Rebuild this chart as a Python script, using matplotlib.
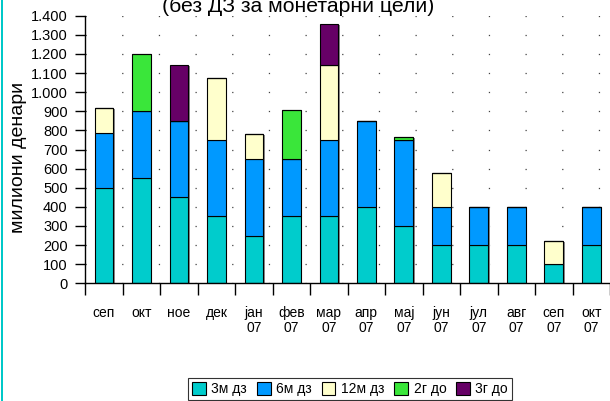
import numpy as np
import matplotlib
matplotlib.use("Agg")
import matplotlib.pyplot as plt
from matplotlib.patches import Rectangle

plt.rcParams['font.family'] = ['Liberation Sans', 'DejaVu Sans']
plt.rcParams['lines.scale_dashes'] = False

# податоци (милиони денари)
months = ['сеп', 'окт', 'ное', 'дек', 'јан\n07', 'фев\n07', 'мар\n07', 'апр\n07',
          'мај\n07', 'јун\n07', 'јул\n07', 'авг\n07', 'сеп\n07', 'окт\n07']
m3 = [500, 550, 450, 350, 250, 350, 350, 400, 300, 200, 200, 200, 100, 200]
m6 = [285, 350, 400, 400, 400, 300, 400, 450, 450, 200, 200, 200, 0, 200]
m12 = [130, 0, 0, 325, 130, 0, 390, 0, 0, 175, 0, 0, 120, 0]
g2 = [0, 300, 0, 0, 0, 255, 0, 0, 15, 0, 0, 0, 0, 0]
g3 = [0, 0, 290, 0, 0, 0, 215, 0, 0, 0, 0, 0, 0, 0]

series = [(m3, '3м дз', '#00CCCC'),
          (m6, '6м дз', '#0099FF'),
          (m12, '12м дз', '#FFFFCC'),
          (g2, '2г до', '#3AE63A'),
          (g3, '3г до', '#660066')]

W, H = 610, 401
fig = plt.figure(figsize=(W / 100, H / 100), dpi=100)
ax = fig.add_axes([85.25 / W, 1 - 283.3 / H, 1 - 85.25 / W, (283.3 - 15.7) / H])

x = np.arange(len(months))
total = np.sum([s[0] for s in series], axis=0)
# сенка десно од столбовите
ax.bar(x + 0.04, total - 4, 0.5, bottom=0, color='#8a8a8a', linewidth=0, zorder=2)

bottom = np.zeros(len(months))
handles = []
for vals, name, col in series:
    vals = np.array(vals, dtype=float)
    b = ax.bar(x, vals, 0.5, bottom=bottom, color=col, edgecolor='black',
               linewidth=0.8, label=name, zorder=3)
    handles.append(b)
    bottom += vals

ax.set_xlim(-0.5, len(months) - 0.5)
ax.set_ylim(0, 1400)
ax.set_yticks(np.arange(0, 1401, 100))
ax.set_yticklabels([f'{v:,}'.replace(',', '.') for v in range(0, 1401, 100)])
ax.set_xticks(x)
ax.set_xticklabels(months, linespacing=1.15)
ax.set_xticks(np.arange(-0.5, len(months), 1), minor=True)
ax.tick_params(axis='x', which='major', length=0, pad=16, labelsize=10)
ax.tick_params(axis='x', which='minor', length=8.4, width=1, direction='out')
ax.tick_params(axis='y', length=7.2, width=1, direction='out', pad=5.5, labelsize=10.5)

ax.yaxis.grid(True, color='#444444', linewidth=0.9, linestyle=(0, (0.9, 25.5)), zorder=1)
for s in ['top', 'right']:
    ax.spines[s].set_visible(False)
for s in ['left', 'bottom']:
    ax.spines[s].set_linewidth(1)
    ax.spines[s].set_zorder(4)

fig.text(298 / W, 1 - 11.5 / H, '(без ДЗ за монетарни цели)', fontsize=15.3,
         ha='center', va='baseline')
fig.text(19 / W, 1 - 157.5 / H, 'милиони денари', fontsize=14,
         rotation=90, ha='center', va='center')

leg = fig.legend(handles=handles, loc='upper center', bbox_to_anchor=(350 / W, 1 - 378 / H),
                 ncol=5, fontsize=10, frameon=True, fancybox=False, handlelength=1.0,
                 handleheight=1.0, handletextpad=0.4, columnspacing=0.7, borderpad=0.3,
                 borderaxespad=0)
leg.get_frame().set_edgecolor('black')
leg.get_frame().set_linewidth(0.8)

fig.add_artist(Rectangle((1 / W, 0), 2.5 / W, 1, transform=fig.transFigure,
                         color='#00C8C8', lw=0))

fig.savefig('out.png', dpi=100)
